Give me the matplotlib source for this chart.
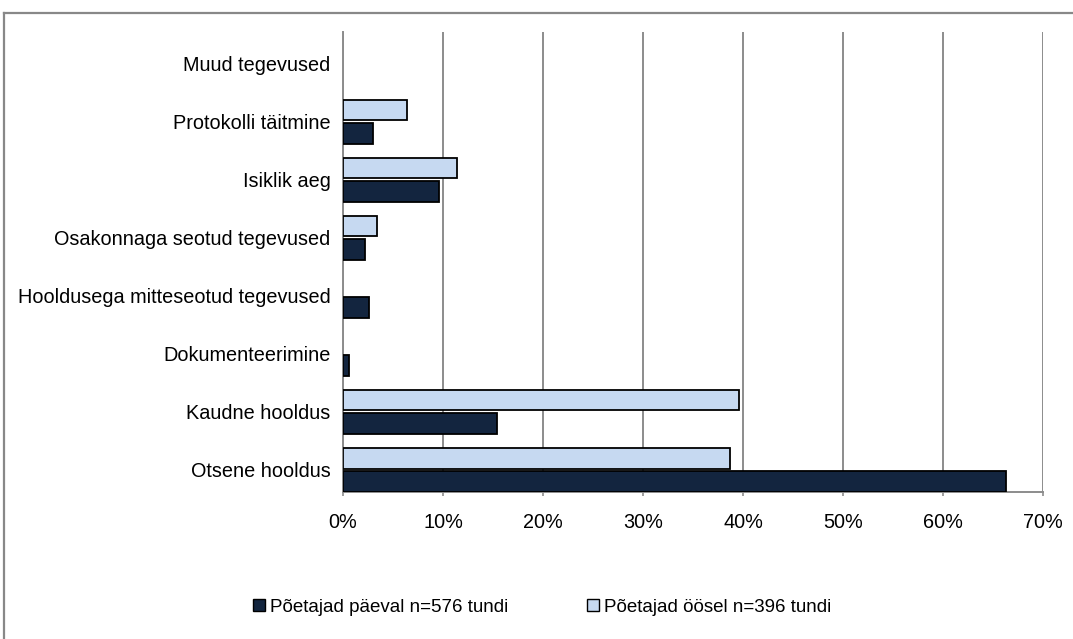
import matplotlib
matplotlib.use("Agg")
import matplotlib.pyplot as plt
from matplotlib.lines import Line2D
from matplotlib.patches import Patch
from matplotlib.ticker import FuncFormatter
import numpy as np

# Activity categories, listed bottom to top as drawn on the y axis
categories = [
    "Otsene hooldus",
    "Kaudne hooldus",
    "Dokumenteerimine",
    "Hooldusega mitteseotud tegevused",
    "Osakonnaga seotud tegevused",
    "Isiklik aeg",
    "Protokolli täitmine",
    "Muud tegevused",
]

# Share of working time (%)
day_share = [66.3, 15.4, 0.6, 2.6, 2.2, 9.6, 3.0, 0.0]
night_share = [38.7, 39.6, 0.0, 0.0, 3.4, 11.4, 6.4, 0.0]

day_label = "Põetajad päeval n=576 tundi"
night_label = "Põetajad öösel n=396 tundi"

day_color = "#13253f"
night_color = "#c6d9f1"
grid_color = "#8c8c8c"

plt.rcParams["font.family"] = ["Liberation Sans", "DejaVu Sans"]

fig = plt.figure(figsize=(10.73, 6.39), dpi=100)
ax = fig.add_axes([343 / 1073, 1 - 492 / 639, 700 / 1073, 460 / 639])

y = np.arange(len(categories))
bar_h = 0.36
off = 0.205
# no outline for empty bars so nothing shows at zero
ax.barh(y + off, night_share, height=bar_h, color=night_color, edgecolor="black",
        linewidth=[1.3 if v > 0 else 0 for v in night_share], zorder=3)
ax.barh(y - off, day_share, height=bar_h, color=day_color, edgecolor="black",
        linewidth=[1.3 if v > 0 else 0 for v in day_share], zorder=3)

ax.set_xlim(0, 70)
ax.set_ylim(-0.38, 7.55)
ax.set_xticks(np.arange(0, 71, 10))
ax.xaxis.set_major_formatter(FuncFormatter(lambda v, p: f"{v:.0f}%"))
ax.set_yticks(y)
ax.set_yticklabels(categories)

ax.grid(axis="x", color=grid_color, linewidth=1.4, zorder=0)
for side in ("top", "right"):
    ax.spines[side].set_visible(False)
ax.spines["left"].set_color(grid_color)
ax.spines["left"].set_linewidth(1.4)
ax.spines["bottom"].set_color(grid_color)
ax.spines["bottom"].set_linewidth(1.4)
ax.tick_params(axis="y", length=0, pad=9, labelsize=14.3)
ax.tick_params(axis="x", length=3, width=1.2, color=grid_color, pad=12, labelsize=14.3)

# Outer chart frame (top and left edges)
fig.add_artist(Line2D([4 / 1073, 4 / 1073], [0, 1 - 13 / 639], color="#888888", lw=1.6))
fig.add_artist(Line2D([4 / 1073, 1], [1 - 13 / 639, 1 - 13 / 639], color="#888888", lw=1.6))

handles = [
    Patch(facecolor=day_color, edgecolor="black", linewidth=1.0, label=day_label),
    Patch(facecolor=night_color, edgecolor="black", linewidth=1.0, label=night_label),
]
fig.legend(handles=handles, loc="center", bbox_to_anchor=(0.505, 1 - 607 / 639),
           ncol=2, frameon=False, fontsize=13.5, handlelength=0.65, handleheight=0.65,
           handletextpad=0.25, columnspacing=4.2)

fig.savefig("out.png", dpi=100, facecolor="white")
